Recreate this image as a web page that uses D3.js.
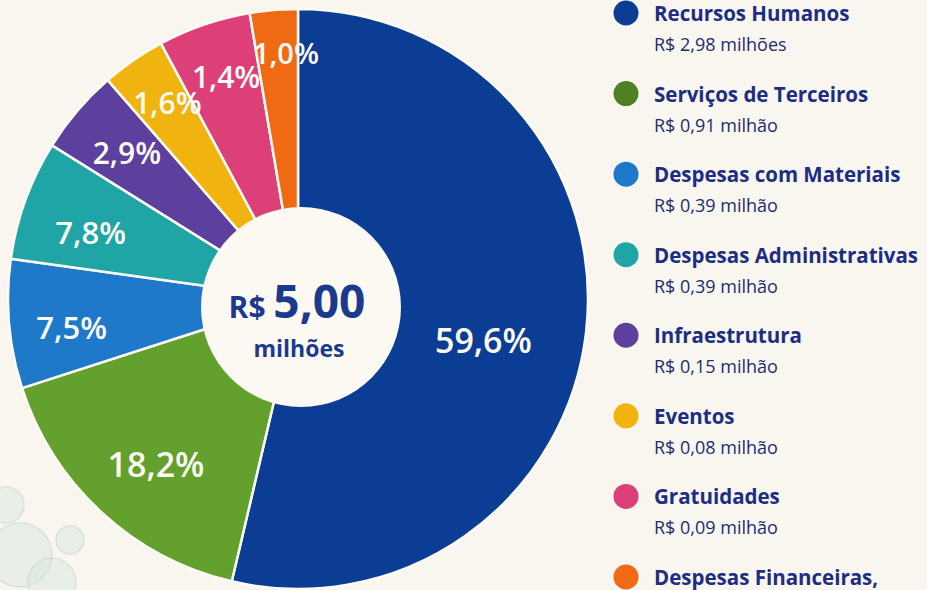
<!DOCTYPE html>
<html>
<head>
<meta charset="utf-8">
<script src="https://cdn.jsdelivr.net/npm/d3@7"></script>
<style>
  html, body { margin: 0; padding: 0; background: #f8f6ee; }
  svg { display: block; }
</style>
</head>
<body>
<div id="chart"></div>
<script>
// categorias e valores
const categorias = ["Recursos Humanos", "Serviços de Terceiros", "Despesas com Materiais", "Despesas Administrativas",
  "Infraestrutura", "Eventos", "Gratuidades", "Despesas Financeiras,"];
const valores = ["R$ 2,98 milhões", "R$ 0,91 milhão", "R$ 0,39 milhão", "R$ 0,39 milhão",
  "R$ 0,15 milhão", "R$ 0,08 milhão", "R$ 0,09 milhão", ""];
const percentuais = ["59,6%", "18,2%", "7,5%", "7,8%", "2,9%", "1,6%", "1,4%", "1,0%"];
// tamanho das fatias como desenhadas na imagem (em graus), não proporcional aos percentuais
const fatiasGraus = [193.2, 58.9, 25.9, 24.0, 17.0, 12.8, 18.6, 9.6];
const cores = ["#0c3d94", "#63a02d", "#1f79cb", "#20a5a6", "#5d3f9d", "#f1b30f", "#dd3f78", "#f06a14"];
const coresLegenda = ["#0c3d94", "#4f8124", "#1f79cb", "#20a5a6", "#5d3f9d", "#f1b30f", "#dd3f78", "#f06a14"];
const totalTexto = ["R$", "5,00", "milhões"];

const width = 927, height = 590;
const cx = 298, cy = 299, raio = 290;
const fonte = "'Open Sans', 'Lato', sans-serif";

const svg = d3.select("#chart")
  .append("svg")
  .attr("width", width)
  .attr("height", height);

// fundo
svg.append("rect").attr("width", width).attr("height", height).attr("fill", "#f8f6ee");
const deco = svg.append("g");
[[20, 555, 32], [52, 582, 24], [6, 505, 18], [70, 540, 14]].forEach(c => {
  deco.append("circle").attr("cx", c[0]).attr("cy", c[1]).attr("r", c[2])
    .attr("fill", "#cfe3da").attr("fill-opacity", 0.35)
    .attr("stroke", "#b9d8cf").attr("stroke-opacity", 0.5).attr("stroke-width", 1.5);
});

// pizza
const pie = d3.pie().sort(null).value(d => d);
const arcos = pie(fatiasGraus);
const arc = d3.arc().innerRadius(0).outerRadius(raio);

const g = svg.append("g").attr("transform", `translate(${cx},${cy})`);

g.selectAll("path")
  .data(arcos)
  .enter().append("path")
  .attr("d", arc)
  .attr("fill", (d, i) => cores[i])
  .attr("stroke", "#fdfbf2")
  .attr("stroke-width", 2.5)
  .attr("stroke-linejoin", "round");

// rótulos de percentual
const labelR = [190, 218, 228, 218, 225, 236, 234, 247];
const labelShift = [6, -2, -2, -2, 0, 1, 1, 2];
const labelSize = [34, 34, 31, 31, 30, 30, 30, 29];

g.selectAll(".pct")
  .data(arcos)
  .enter().append("text")
  .attr("class", "pct")
  .attr("x", (d, i) => Math.sin((d.startAngle + d.endAngle) / 2 + labelShift[i] * Math.PI / 180) * labelR[i])
  .attr("y", (d, i) => -Math.cos((d.startAngle + d.endAngle) / 2 + labelShift[i] * Math.PI / 180) * labelR[i])
  .attr("text-anchor", "middle")
  .attr("dominant-baseline", "central")
  .style("font-family", fonte)
  .style("font-weight", 600)
  .style("font-size", (d, i) => labelSize[i] + "px")
  .style("fill", "#fbfaf3")
  .text((d, i) => percentuais[i]);

// círculo central
svg.append("circle")
  .attr("cx", 301)
  .attr("cy", 307)
  .attr("r", 100)
  .attr("fill", "#fbf9f2");

const centro = svg.append("text")
  .attr("x", 297)
  .attr("y", 318)
  .attr("text-anchor", "middle")
  .style("font-family", fonte)
  .style("font-weight", 700)
  .style("fill", "#1b3a8e");
centro.append("tspan").style("font-size", "30px").text(totalTexto[0] + " ");
centro.append("tspan").style("font-size", "46px").text(totalTexto[1]);

svg.append("text")
  .attr("x", 299)
  .attr("y", 357)
  .attr("text-anchor", "middle")
  .style("font-family", fonte)
  .style("font-weight", 700)
  .style("font-size", "23px")
  .style("fill", "#1b3a8e")
  .text(totalTexto[2]);

// legenda
const yLeg = d3.scalePoint().domain(categorias).range([13, 577]);

const leg = svg.selectAll(".leg")
  .data(categorias)
  .enter().append("g")
  .attr("class", "leg")
  .attr("transform", d => `translate(626,${yLeg(d)})`);

leg.append("circle")
  .attr("r", 12.5)
  .attr("fill", (d, i) => coresLegenda[i]);

leg.append("text")
  .attr("x", 28)
  .attr("y", 0)
  .attr("dominant-baseline", "central")
  .style("font-family", fonte)
  .style("font-weight", 700)
  .style("font-size", "20.5px")
  .style("fill", "#1c2d84")
  .text(d => d);

leg.append("text")
  .attr("x", 28)
  .attr("y", 31)
  .attr("dominant-baseline", "central")
  .style("font-family", fonte)
  .style("font-size", "18px")
  .style("fill", "#1f2c6e")
  .text((d, i) => valores[i]);
</script>
</body>
</html>
